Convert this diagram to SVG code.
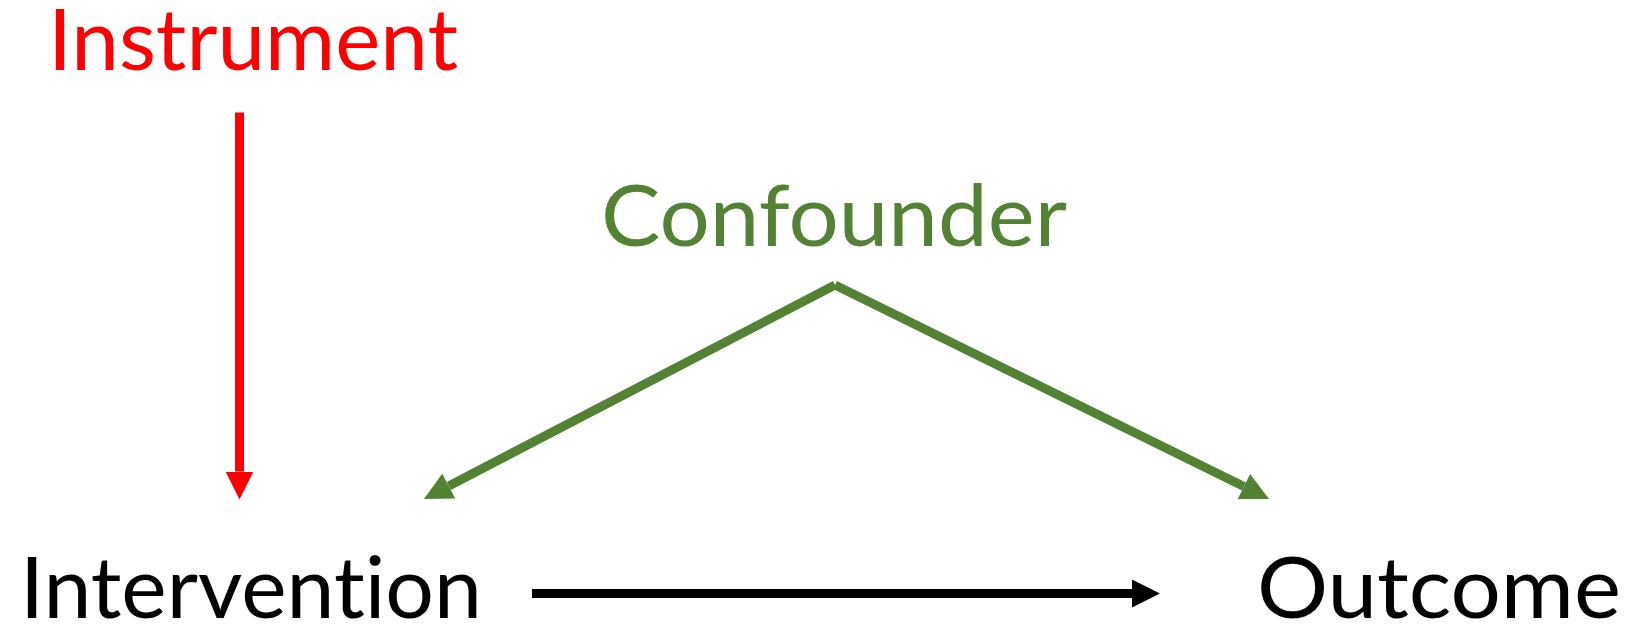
<svg xmlns="http://www.w3.org/2000/svg" width="1633" height="624" viewBox="0 0 1633 624">
<style>
.lbl{font-family:Lato,"Noto Sans","DejaVu Sans",sans-serif;font-size:86px;font-variant-ligatures:none;font-feature-settings:"liga" 0,"clig" 0;}
.red{fill:#FF0000}
.green{fill:#548235}
.black{fill:#000000}
.edge{fill:none;stroke-width:9;stroke-linecap:butt}
</style>
<defs>
<marker id="hr" viewBox="0 0 28 28" refX="0" refY="14" markerWidth="28" markerHeight="28" markerUnits="userSpaceOnUse" orient="auto"><path d="M0,0 L28,14 L0,28 z" fill="#FF0000"/></marker>
<marker id="hg" viewBox="0 0 28 28" refX="0" refY="14" markerWidth="28" markerHeight="28" markerUnits="userSpaceOnUse" orient="auto"><path d="M0,0 L28,14 L0,28 z" fill="#548235"/></marker>
<marker id="hb" viewBox="0 0 28 28" refX="0" refY="14" markerWidth="28" markerHeight="28" markerUnits="userSpaceOnUse" orient="auto"><path d="M0,0 L28,14 L0,28 z" fill="#000000"/></marker>
</defs>
<rect width="1633" height="624" fill="#FFFFFF"/>
<g id="connectors">
<line class="edge" x1="239.5" y1="112.5" x2="239.5" y2="471.5" stroke="#FF0000" marker-end="url(#hr)"/>
<line class="edge" x1="835" y1="285" x2="448.8" y2="486" stroke="#548235" marker-end="url(#hg)"/>
<line class="edge" x1="835" y1="285" x2="1243.9" y2="486.5" stroke="#548235" marker-end="url(#hg)"/>
<line class="edge" x1="532" y1="593.5" x2="1132" y2="593.5" stroke="#000000" marker-end="url(#hb)"/>
</g>
<g id="instrument"><text class="lbl red" x="48" y="70" textLength="410" lengthAdjust="spacingAndGlyphs">Instrument</text></g>
<g id="confounder"><text class="lbl green" x="601" y="246" textLength="466" lengthAdjust="spacingAndGlyphs">Confounder</text></g>
<g id="intervention"><text class="lbl black" x="20" y="618" textLength="462" lengthAdjust="spacingAndGlyphs">Intervention</text></g>
<g id="outcome"><text class="lbl black" x="1257" y="618" textLength="364" lengthAdjust="spacingAndGlyphs">Outcome</text></g>
</svg>
